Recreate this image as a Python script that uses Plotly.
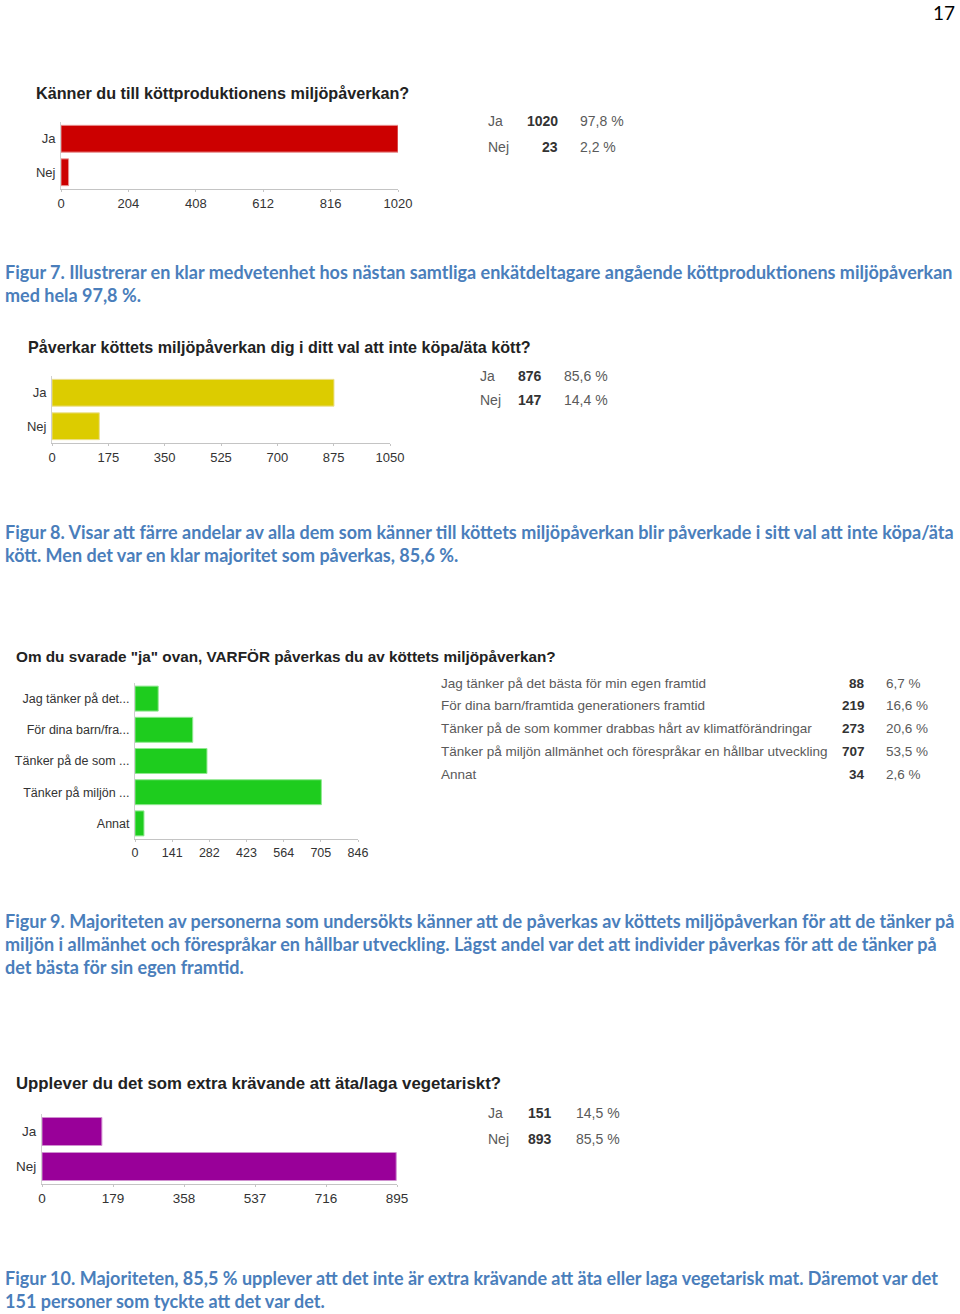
import plotly.graph_objects as go

W, H = 960, 1314

# ---------------- data ----------------
c1_title = "Känner du till köttproduktionens miljöpåverkan?"
c1_cats = ["Ja", "Nej"]
c1_vals = [1020, 23]
c1_pct = ["97,8 %", "2,2 %"]
c1_ticks = [0, 204, 408, 612, 816, 1020]

c2_title = "Påverkar köttets miljöpåverkan dig i ditt val att inte köpa/äta kött?"
c2_cats = ["Ja", "Nej"]
c2_vals = [876, 147]
c2_pct = ["85,6 %", "14,4 %"]
c2_ticks = [0, 175, 350, 525, 700, 875, 1050]

c3_title = 'Om du svarade "ja" ovan, VARFÖR påverkas du av köttets miljöpåverkan?'
c3_cats = ["Jag tänker på det...", "För dina barn/fra...", "Tänker på de som ...",
           "Tänker på miljön ...", "Annat"]
c3_full = ["Jag tänker på det bästa för min egen framtid",
           "För dina barn/framtida generationers framtid",
           "Tänker på de som kommer drabbas hårt av klimatförändringar",
           "Tänker på miljön allmänhet och förespråkar en hållbar utveckling",
           "Annat"]
c3_vals = [88, 219, 273, 707, 34]
c3_pct = ["6,7 %", "16,6 %", "20,6 %", "53,5 %", "2,6 %"]
c3_ticks = [0, 141, 282, 423, 564, 705, 846]

c4_title = "Upplever du det som extra krävande att äta/laga vegetariskt?"
c4_cats = ["Ja", "Nej"]
c4_vals = [151, 893]
c4_pct = ["14,5 %", "85,5 %"]
c4_ticks = [0, 179, 358, 537, 716, 895]

cap7 = ["Figur 7. Illustrerar en klar medvetenhet hos nästan samtliga enkätdeltagare angående köttproduktionens miljöpåverkan",
        "med hela 97,8 %."]
cap8 = ["Figur 8. Visar att färre andelar av alla dem som känner till köttets miljöpåverkan blir påverkade i sitt val att inte köpa/äta",
        "kött. Men det var en klar majoritet som påverkas, 85,6 %."]
cap9 = ["Figur 9. Majoriteten av personerna som undersökts känner att de påverkas av köttets miljöpåverkan för att de tänker på",
        "miljön i allmänhet och förespråkar en hållbar utveckling. Lägst andel var det att individer påverkas för att de tänker på",
        "det bästa för sin egen framtid."]
cap10 = ["Figur 10. Majoriteten, 85,5 % upplever att det inte är extra krävande att äta eller laga vegetarisk mat. Däremot var det",
         "151 personer som tyckte att det var det."]
page_no = "17"

# ---------------- helpers ----------------
def px(x):
    return x / W

def py(y):
    return 1 - y / H

CHART_FONT = "Liberation Sans, Arial, sans-serif"
CAP_FONT = "Lato, Liberation Sans, sans-serif"
CAP_COLOR = "#4A7EBB"

fig = go.Figure()
annotations = []

charts = [
    dict(title=c1_title, cats=c1_cats, vals=c1_vals, ticks=c1_ticks, color="#CC0000", line="#E89090",
         x0=61, x1=398, y0=122, y1=189, tx=35, ty=93, ts=16.2, fs=13),
    dict(title=c2_title, cats=c2_cats, vals=c2_vals, ticks=c2_ticks, color="#DCCC00", line="#ECE090",
         x0=52, x1=390, y0=376, y1=443, tx=27, ty=347, ts=16.1, fs=13),
    dict(title=c3_title, cats=c3_cats, vals=c3_vals, ticks=c3_ticks, color="#1ECC1E", line="#90E890",
         x0=135, x1=358, y0=683, y1=839, tx=15, ty=656, ts=15.3, fs=12.5),
    dict(title=c4_title, cats=c4_cats, vals=c4_vals, ticks=c4_ticks, color="#990099", line="#D090D0",
         x0=42, x1=397, y0=1114, y1=1184, tx=15, ty=1083, ts=16.8, fs=13.5),
]

layout_axes = {}
for i, c in enumerate(charts, start=1):
    sfx = "" if i == 1 else str(i)
    fig.add_trace(go.Bar(
        x=c["vals"], y=c["cats"], orientation="h",
        marker=dict(color=c["color"], line=dict(color=c["line"], width=1)),
        xaxis="x" + sfx, yaxis="y" + sfx, showlegend=False, hoverinfo="x+y",
    ))
    layout_axes["xaxis" + sfx] = dict(
        domain=[px(c["x0"]), px(c["x1"])], anchor="y" + sfx, automargin=False,
        range=[0, c["ticks"][-1]], tickvals=c["ticks"], ticktext=[str(t) for t in c["ticks"]],
        showgrid=False, zeroline=False, showline=True, linecolor="#C4C4C4", linewidth=1,
        ticks="outside", ticklen=2, tickcolor="#C4C4C4",
        tickfont=dict(family=CHART_FONT, size=c["fs"], color="#333333"), fixedrange=True,
    )
    layout_axes["yaxis" + sfx] = dict(
        domain=[py(c["y1"]), py(c["y0"])], anchor="x" + sfx, automargin=False,
        autorange="reversed", type="category",
        showgrid=False, zeroline=False, showline=True, linecolor="#D0D0D0", linewidth=1,
        ticks="", ticklabelstandoff=2,
        tickfont=dict(family=CHART_FONT, size=c["fs"], color="#333333"), fixedrange=True,
    )
    annotations.append(dict(
        text="<b>" + c["title"] + "</b>", x=px(c["tx"]), y=py(c["ty"]), xref="paper", yref="paper",
        xanchor="left", yanchor="middle", showarrow=False, borderpad=0,
        font=dict(family=CHART_FONT, size=c["ts"], color="#222222"),
    ))

# ---- right-hand tables (Ja/Nej) ----
def small_table(cats, vals, pcts, xl, xn, xp, ys, size=14):
    for cat, v, p, y in zip(cats, vals, pcts, ys):
        annotations.append(dict(text=cat, x=px(xl), y=py(y), xref="paper", yref="paper",
                                xanchor="left", yanchor="middle", showarrow=False, borderpad=0,
                                font=dict(family=CHART_FONT, size=size, color="#5A5A5A")))
        annotations.append(dict(text="<b>%d</b>" % v, x=px(xn), y=py(y), xref="paper", yref="paper",
                                xanchor="right", yanchor="middle", showarrow=False, borderpad=0,
                                font=dict(family=CHART_FONT, size=size, color="#333333")))
        annotations.append(dict(text=p, x=px(xp), y=py(y), xref="paper", yref="paper",
                                xanchor="left", yanchor="middle", showarrow=False, borderpad=0,
                                font=dict(family=CHART_FONT, size=size, color="#5A5A5A")))

small_table(c1_cats, c1_vals, c1_pct, 487, 559, 579, [121, 147])
small_table(c2_cats, c2_vals, c2_pct, 479, 543, 563, [376, 400])
small_table(c4_cats, c4_vals, c4_pct, 487, 553, 575, [1113, 1139])
small_table(c3_full, c3_vals, c3_pct, 440, 866, 885, [683, 705, 728, 751, 774], size=13.5)

# ---- captions ----
def caption(lines, y_first, step=23):
    for k, line in enumerate(lines):
        annotations.append(dict(text="<b>" + line + "</b>", x=px(4), y=py(y_first + k * step),
                                xref="paper", yref="paper", xanchor="left", yanchor="middle",
                                showarrow=False, borderpad=0,
                                font=dict(family=CAP_FONT, size=18, color=CAP_COLOR)))

caption(cap7, 272)
caption(cap8, 532)
caption(cap9, 921)
caption(cap10, 1278)

annotations.append(dict(text=page_no, x=px(956), y=1, xref="paper", yref="paper",
                        xanchor="right", yanchor="top", showarrow=False, borderpad=0,
                        font=dict(family=CAP_FONT, size=19, color="#000000")))

fig.update_layout(
    width=W, height=H, margin=dict(l=0, r=0, t=0, b=0, autoexpand=False),
    paper_bgcolor="white", plot_bgcolor="white", bargap=0.2,
    annotations=annotations, **layout_axes,
)

fig.write_html("out.html", include_plotlyjs=True, config={"displayModeBar": False})
